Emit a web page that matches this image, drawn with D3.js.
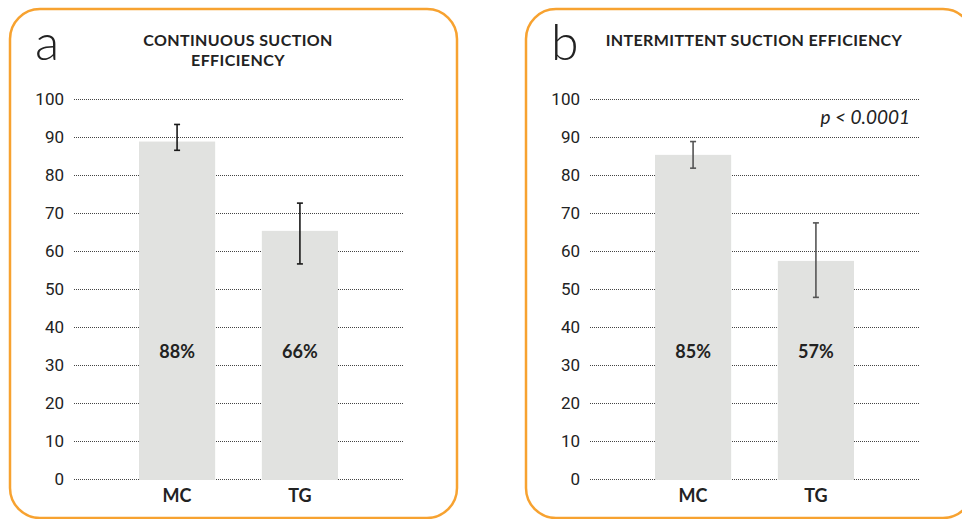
<!DOCTYPE html>
<html>
<head>
<meta charset="utf-8">
<script src="https://cdn.jsdelivr.net/npm/d3@7"></script>
<style>
  body { margin: 0; background: #fff; }
  text { font-family: Lato, "Open Sans", sans-serif; }
</style>
</head>
<body>
<svg id="chart" width="962" height="519"></svg>
<script>
// data
var categories = ["MC", "TG"];
var yTicks = [0, 10, 20, 30, 40, 50, 60, 70, 80, 90, 100];

var continuousMean = [88.8, 65.3];
var continuousLow = [86.5, 56.6];
var continuousHigh = [93.3, 72.6];
var continuousLabels = ["88%", "66%"];

var intermittentMean = [85.3, 57.4];
var intermittentLow = [81.8, 47.8];
var intermittentHigh = [88.8, 67.4];
var intermittentLabels = ["85%", "57%"];

var svg = d3.select("#chart");

function drawPanel(offset, letter, titleLines, mean, low, high, labels, errColor, note) {
  var g = svg.append("g").attr("transform", "translate(" + offset + ",0)");

  // rounded orange frame
  g.append("rect")
    .attr("x", 10).attr("y", 9)
    .attr("width", 447).attr("height", 509)
    .attr("rx", 30).attr("ry", 30)
    .attr("fill", "#fff")
    .attr("stroke", "#f7a230")
    .attr("stroke-width", 2.5);

  var y = d3.scaleLinear().domain([0, 100]).range([479, 99]);
  var x = d3.scaleBand()
    .domain(categories)
    .range([139, 338])
    .paddingInner(0.38)
    .paddingOuter(0);

  // dotted gridlines
  g.append("g")
    .selectAll("line")
    .data(yTicks)
    .enter().append("line")
    .attr("x1", 74).attr("x2", 404)
    .attr("y1", function (d) { return y(d) + 0.5; })
    .attr("y2", function (d) { return y(d) + 0.5; })
    .attr("stroke", "#444")
    .attr("stroke-width", 1)
    .attr("stroke-dasharray", "1,1");

  // tick labels
  g.append("g")
    .selectAll("text")
    .data(yTicks)
    .enter().append("text")
    .attr("x", 64)
    .attr("y", function (d) { return y(d); })
    .attr("dy", "0.36em")
    .attr("text-anchor", "end")
    .attr("fill", "#222")
    .style("font-family", "'Liberation Sans Narrow', Roboto, sans-serif")
    .style("font-size", "17px")
    .text(function (d) { return d; });

  // bars
  g.selectAll(".bar")
    .data(mean)
    .enter().append("rect")
    .attr("class", "bar")
    .attr("x", function (d, i) { return x(categories[i]); })
    .attr("y", function (d) { return y(d); })
    .attr("width", x.bandwidth())
    .attr("height", function (d) { return y(0) - y(d) + 1; })
    .attr("fill", "#e1e2e0");

  // error bars
  var err = g.append("g")
    .attr("stroke", errColor)
    .attr("stroke-width", 1.6);
  categories.forEach(function (c, i) {
    var cx = x(c) + x.bandwidth() / 2;
    err.append("line").attr("x1", cx).attr("x2", cx).attr("y1", y(high[i])).attr("y2", y(low[i]));
    err.append("line").attr("x1", cx - 3).attr("x2", cx + 3).attr("y1", y(high[i])).attr("y2", y(high[i]));
    err.append("line").attr("x1", cx - 3).attr("x2", cx + 3).attr("y1", y(low[i])).attr("y2", y(low[i]));
  });

  // percentage labels inside bars
  g.selectAll(".pct")
    .data(labels)
    .enter().append("text")
    .attr("class", "pct")
    .attr("x", function (d, i) { return x(categories[i]) + x.bandwidth() / 2; })
    .attr("y", y(33.5))
    .attr("dy", "0.36em")
    .attr("text-anchor", "middle")
    .attr("fill", "#222")
    .style("font-size", "18px")
    .style("font-weight", "bold")
    .text(function (d) { return d; });

  // category labels
  g.selectAll(".cat")
    .data(categories)
    .enter().append("text")
    .attr("class", "cat")
    .attr("x", function (d) { return x(d) + x.bandwidth() / 2; })
    .attr("y", 502)
    .attr("text-anchor", "middle")
    .attr("fill", "#222")
    .style("font-size", "18px")
    .style("font-weight", "bold")
    .text(function (d) { return d; });

  // panel letter
  g.append("text")
    .attr("x", 35)
    .attr("y", 60)
    .attr("fill", "#222")
    .style("font-size", "50px")
    .style("font-weight", "300")
    .text(letter);

  // title
  var t = g.append("text")
    .attr("text-anchor", "middle")
    .attr("fill", "#222")
    .style("font-size", "16px")
    .style("letter-spacing", "0.4px")
    .style("font-weight", "bold");
  titleLines.forEach(function (line, i) {
    t.append("tspan").attr("x", 238).attr("y", 46 + i * 20).text(line);
  });

  if (note) {
    g.append("text")
      .attr("x", 394)
      .attr("y", 124)
      .attr("text-anchor", "end")
      .attr("fill", "#222")
      .style("font-size", "19px")
      .style("font-style", "italic")
      .text(note);
  }
}

drawPanel(0, "a", ["CONTINUOUS SUCTION", "EFFICIENCY"],
  continuousMean, continuousLow, continuousHigh, continuousLabels, "#1a1a1a", null);
drawPanel(516, "b", ["INTERMITTENT SUCTION EFFICIENCY"],
  intermittentMean, intermittentLow, intermittentHigh, intermittentLabels, "#555", "p < 0.0001");
</script>
</body>
</html>
